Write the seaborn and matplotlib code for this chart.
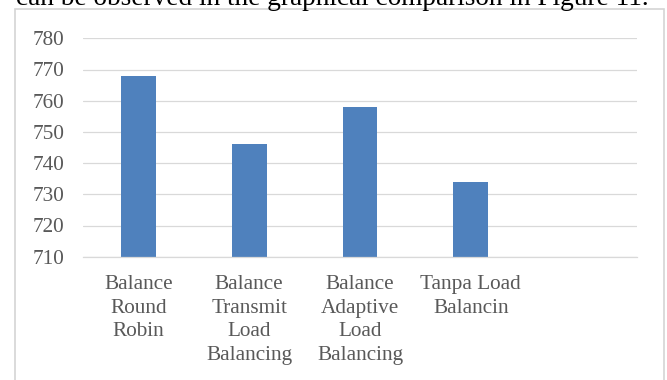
import matplotlib
matplotlib.use("Agg")
import matplotlib.pyplot as plt
from matplotlib.patches import Rectangle
import seaborn as sns
import pandas as pd

categories = ["Balance\nRound\nRobin", "Balance\nTransmit\nLoad\nBalancing",
              "Balance\nAdaptive\nLoad\nBalancing", "Tanpa Load\nBalancin"]
slot_order = categories + [" "]
values = [768, 746, 758, 734]
y_ticks = [710, 720, 730, 740, 750, 760, 770, 780]
caption = "can be observed in the graphical comparison in Figure 11."

sns.set_style("white")
plt.rcParams['font.family'] = ['Liberation Serif', 'DejaVu Serif']

W, H = 667, 380
fig = plt.figure(figsize=(W / 100, H / 100), dpi=100)
ax = fig.add_axes([83 / W, 1 - 256.7 / H, (637 - 83) / W, (256.7 - 38.3) / H])

df = pd.DataFrame({"cat": categories, "val": values})
sns.barplot(data=df, x="cat", y="val", order=slot_order, color="#4F81BD",
            saturation=1, width=0.315, linewidth=0, ax=ax)

ax.set_ylim(710, 780)
ax.set_yticks(y_ticks)
ax.set_xlim(-0.5, len(slot_order) - 0.5)
ax.set_xlabel("")
ax.set_ylabel("")
ax.yaxis.grid(True, color="#D9D9D9", linewidth=0.9)
ax.set_axisbelow(True)
for s in ["top", "right", "left"]:
    ax.spines[s].set_visible(False)
ax.spines["bottom"].set_color("#D9D9D9")
ax.spines["bottom"].set_linewidth(0.9)
ax.tick_params(axis="y", length=0, pad=13.5, labelsize=15.3, labelcolor="#595959")
ax.tick_params(axis="x", length=0, pad=13.5, labelsize=15.3, labelcolor="#595959")
for lbl in ax.get_xticklabels():
    lbl.set_multialignment("center")
    lbl.set_linespacing(1.32)

fig.patches.append(Rectangle((15 / W, -0.1), (664 - 15) / W, 1.1 - 9.3 / H,
                             transform=fig.transFigure, fill=False,
                             edgecolor="#D4D4D4", linewidth=1.2))
fig.text(16 / W, 1 - 4.7 / H, caption, fontsize=19.6, color="black",
         ha="left", va="baseline")

fig.savefig("out.png", dpi=100)
